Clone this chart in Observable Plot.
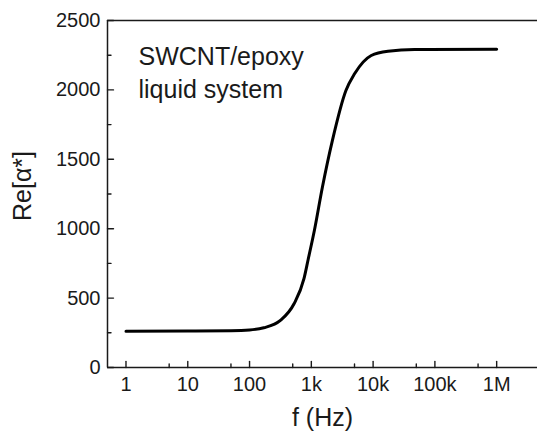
<!DOCTYPE html>
<html>
<head>
<meta charset="utf-8">
<script src="https://cdn.jsdelivr.net/npm/d3@7"></script>
<script src="https://cdn.jsdelivr.net/npm/@observablehq/plot@0.6"></script>
<style>
  html, body { margin: 0; padding: 0; background: #fff; }
  #chart svg { display: block; font-family: "Liberation Sans", Arial, sans-serif; }
</style>
</head>
<body>
<div id="chart"></div>
<script>
// Data
const freq = [1, 10, 50, 100, 170, 316, 525, 760, 890, 1120, 1510, 2190, 3630, 5010, 9330, 17400, 46800, 1000000];
const reAlpha = [262, 263, 265, 270, 286, 339, 459, 640, 780, 987, 1299, 1635, 1996, 2116, 2248, 2279, 2291, 2292];
const xMajor = [1, 10, 100, 1000, 10000, 100000, 1000000];
const xMajorLabels = ["1", "10", "100", "1k", "10k", "100k", "1M"];
const xMinor = [5, 50, 500, 5000, 50000, 500000];
const yMajor = [0, 500, 1000, 1500, 2000, 2500];
const yMinor = [250, 750, 1250, 1750, 2250];
const annotation = ["SWCNT/epoxy", "liquid system"];
const xLabel = "f (Hz)";
const yLabel = "Re[α*]";

const data = freq.map((f, i) => ({f, v: reAlpha[i]}));

const W = 537, H = 434;
const mL = 107, mT = 20, mB = 67, mR = 0;
const xDomain = [0.502, 4.58e6];
const ink = "#1a1a1a";

// a plain line shape for inward tick vectors
const stick = {draw(context, l) { context.moveTo(0, 0); context.lineTo(0, -l); }};

const chart = Plot.plot({
  width: W,
  height: H,
  marginLeft: mL,
  marginTop: mT,
  marginBottom: mB,
  marginRight: mR,
  style: {fontFamily: "Liberation Sans, Arial, sans-serif", color: ink, background: "#fff"},
  x: {type: "log", domain: xDomain},
  y: {domain: [0, 2500]},
  marks: [
    Plot.ruleY([0, 2500], {stroke: ink, strokeWidth: 1.5}),
    Plot.ruleX([xDomain[0]], {stroke: ink, strokeWidth: 1.5}),
    Plot.vector(xMajor, {x: d => d, frameAnchor: "bottom", length: 6, rotate: 0, anchor: "start", shape: stick, stroke: ink, strokeWidth: 1.4}),
    Plot.vector(xMinor, {x: d => d, frameAnchor: "bottom", length: 3.5, rotate: 0, anchor: "start", shape: stick, stroke: ink, strokeWidth: 1.4}),
    Plot.vector(yMajor, {y: d => d, frameAnchor: "left", length: 6, rotate: 90, anchor: "start", shape: stick, stroke: ink, strokeWidth: 1.4}),
    Plot.vector(yMinor, {y: d => d, frameAnchor: "left", length: 3.5, rotate: 90, anchor: "start", shape: stick, stroke: ink, strokeWidth: 1.4}),
    Plot.axisX({ticks: xMajor, tickSize: 0, tickPadding: 9, fontSize: 20, label: null,
      tickFormat: d => xMajorLabels[xMajor.indexOf(d)]}),
    Plot.axisY({ticks: yMajor, tickSize: 0, tickPadding: 7, fontSize: 20, label: null,
      tickFormat: d => String(d)}),
    Plot.line(data, {x: "f", y: "v", stroke: "#000", strokeWidth: 3, curve: "monotone-x"}),
    Plot.text([annotation.join("\n")], {frameAnchor: "top-left", dx: 31, dy: 21, textAnchor: "start",
      lineAnchor: "top", lineHeight: 1.32, fontSize: 25, fill: ink}),
    Plot.text([xLabel], {frameAnchor: "bottom", dy: 58, fontSize: 25, fill: ink}),
    Plot.text([yLabel], {frameAnchor: "left", textAnchor: "middle", dx: -85, dy: -8, rotate: -90, fontSize: 25, fill: ink})
  ]
});
document.getElementById("chart").append(chart);
</script>
</body>
</html>
